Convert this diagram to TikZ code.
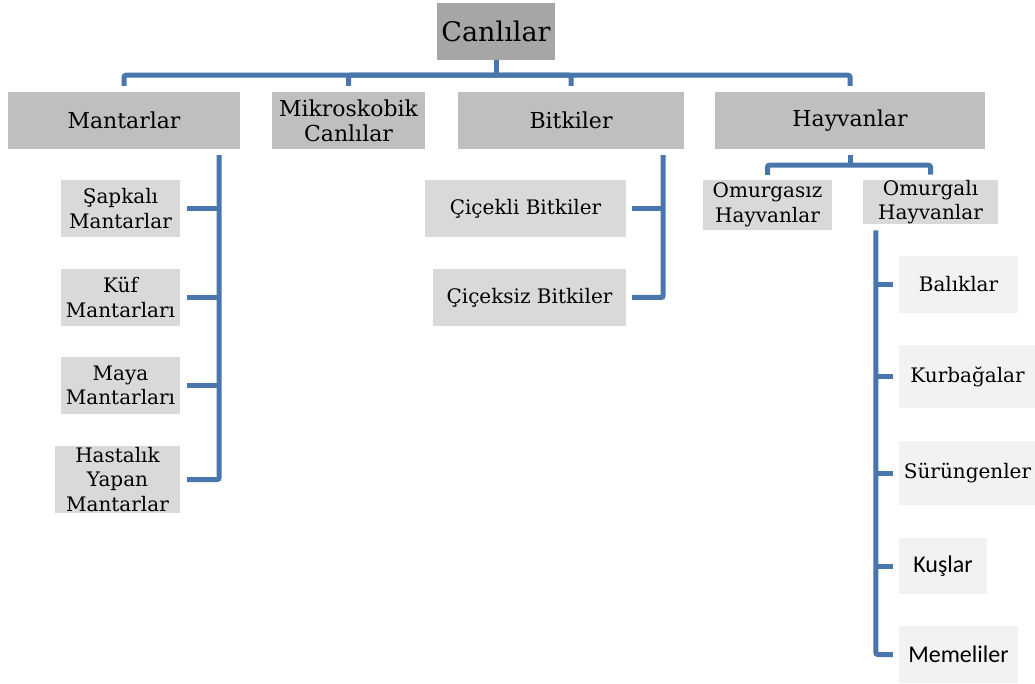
\documentclass[tikz,border=0pt]{standalone}
\usepackage{fontspec}
\setmainfont{DejaVu Serif}
\newfontfamily\calibrifont{Carlito}
\usetikzlibrary{positioning}
\definecolor{linkblue}{HTML}{4A76AE}
\definecolor{rootgray}{HTML}{A6A6A6}
\definecolor{maingray}{HTML}{BFBFBF}
\definecolor{subgray}{HTML}{D9D9D9}
\definecolor{leafgray}{HTML}{F2F2F2}

\begin{document}
\begin{tikzpicture}[x=1pt,y=-1pt,
  boxsize/.style n args={2}{draw=none,inner sep=0pt,align=center,minimum width=#1pt,minimum height=#2pt},
  rootbox/.style={fill=rootgray,font=\fontsize{27}{32}\selectfont},
  mainbox/.style={fill=maingray,font=\fontsize{22}{25}\selectfont},
  subbox/.style={fill=subgray,font=\fontsize{20}{24.5}\selectfont},
  leafbox/.style={fill=leafgray,font=\fontsize{20}{24}\selectfont},
  sansleaf/.style={fill=leafgray,font=\calibrifont\fontsize{24}{28}\selectfont},
  link/.style={draw=linkblue,line width=5pt,rounded corners=2pt}]
\useasboundingbox (0,0) rectangle (1035,684);

% root and main groups
\node[rootbox,boxsize={118}{57}] (canli) at (496,31.5) {Canlılar};
\node[mainbox,boxsize={232}{57}] (mantar) at (124,120.5) {Mantarlar};
\node[mainbox,boxsize={153}{57}] (mikro) at (348.5,120.5) {Mikroskobik\\Canlılar};
\node[mainbox,boxsize={226}{57}] (bitki) at (571,120.5) {Bitkiler};
\node[mainbox,boxsize={270}{57}] (hayvan) at (850,120.5) {Hayvanlar};

% mantarlar
\node[subbox,boxsize={119}{57}] (sapka) at (120.5,208.5) {Şapkalı\\Mantarlar};
\node[subbox,boxsize={119}{57}] (kuf) at (120.5,297.5) {Küf\\Mantarları};
\node[subbox,boxsize={119}{57}] (maya) at (120.5,385.5) {Maya\\Mantarları};
\node[subbox,boxsize={125}{67}] (hastalik) at (117.5,479.5) {Hastalık\\Yapan\\Mantarlar};

% bitkiler
\node[subbox,boxsize={201}{57}] (cicekli) at (525.5,208.5) {Çiçekli Bitkiler};
\node[subbox,boxsize={193}{57}] (ciceksiz) at (529.5,297.5) {Çiçeksiz Bitkiler};

% hayvanlar
\node[subbox,boxsize={129}{50}] (omsiz) at (767.5,205) {Omurgasız\\Hayvanlar};
\node[subbox,boxsize={135}{44}] (omlu) at (930.5,202) {Omurgalı\\Hayvanlar};
\node[leafbox,boxsize={119}{57}] (balik) at (958.5,284.5) {Balıklar};
\node[leafbox,boxsize={137}{63}] (kurbaga) at (967.5,376.5) {Kurbağalar};
\node[leafbox,boxsize={137}{64}] (surungen) at (967.5,473) {Sürüngenler};
\node[sansleaf,boxsize={88}{56}] (kus) at (943,566) {Kuşlar};
\node[sansleaf,boxsize={119}{57}] (memeli) at (958.5,654.5) {Memeliler};

% top level bus
\coordinate (topbus) at ([yshift=-15pt]canli.south);
\draw[link] (canli.south) -- (topbus);
\foreach \n in {mantar,mikro,bitki,hayvan}
  \draw[link,shorten >=6pt] (topbus) -| (\n.north);

% mantarlar spine
\coordinate (mspine) at ([xshift=-21pt,yshift=-6pt]mantar.south east);
\draw[link,shorten >=7pt] (mspine) |- (hastalik.east);
\foreach \n in {sapka,kuf,maya}
  \draw[link,shorten >=7pt] (mspine |- \n.east) -- (\n.east);

% bitkiler spine
\coordinate (bspine) at ([xshift=-21pt,yshift=-6pt]bitki.south east);
\draw[link,shorten >=6pt] (bspine) |- (ciceksiz.east);
\draw[link,shorten >=6pt] (bspine |- cicekli.east) -- (cicekli.east);

% hayvanlar bus
\coordinate (hbus) at ([yshift=-16pt]hayvan.south);
\draw[link,shorten <=6pt] (hayvan.south) -- (hbus);
\foreach \n in {omsiz,omlu}
  \draw[link,shorten >=5pt] (hbus) -| (\n.north);

% omurgalilar spine
\coordinate (ospine) at ([xshift=13pt,yshift=-6pt]omlu.south west);
\draw[link,shorten >=6pt] (ospine) |- (memeli.west);
\foreach \n in {balik,kurbaga,surungen,kus}
  \draw[link,shorten >=6pt] (ospine |- \n.west) -- (\n.west);

\end{tikzpicture}
\end{document}
